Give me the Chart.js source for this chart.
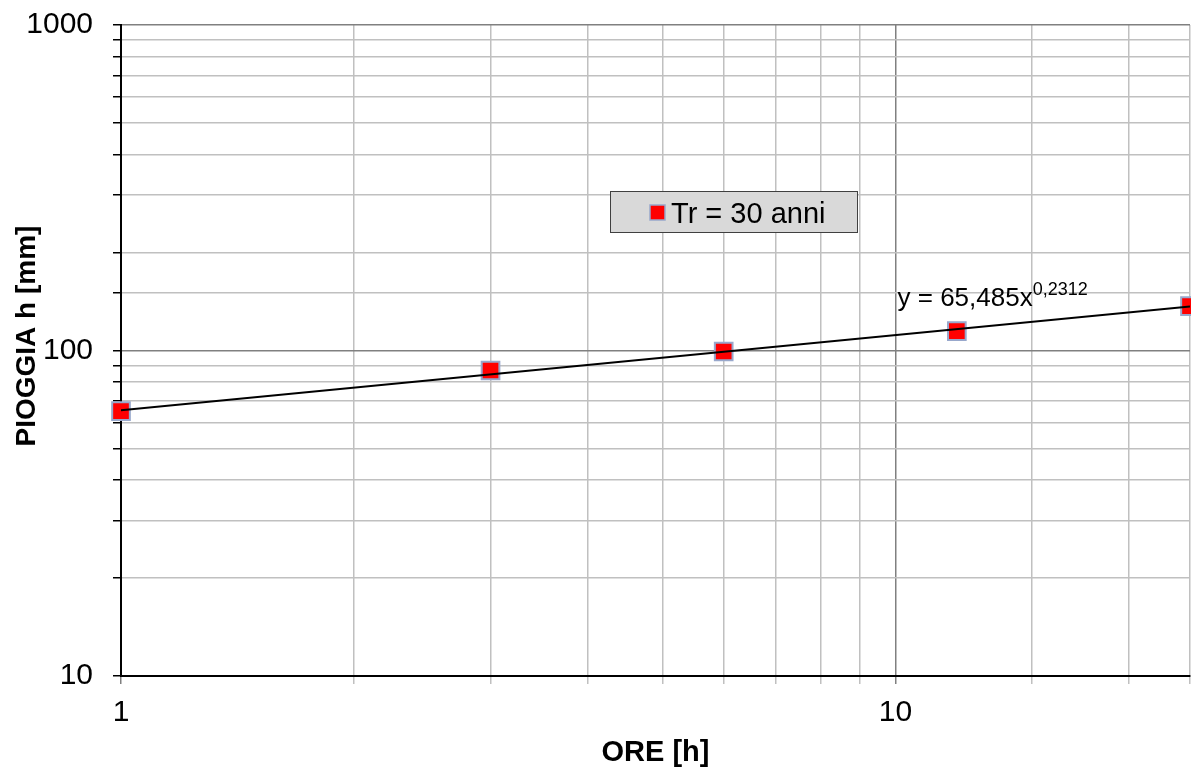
<!DOCTYPE html>
<html>
<head>
<meta charset="utf-8">
<title>Pioggia h - Tr 30 anni</title>
<script src="https://cdn.jsdelivr.net/npm/chart.js@4.4.1/dist/chart.umd.min.js"></script>
<style>
html, body { margin: 0; padding: 0; background: #fff; }
canvas { display: block; }
</style>
</head>
<body>
<canvas id="myChart" width="1191" height="767"></canvas>
<script>
// dati
var ore = [1, 3, 6, 12, 24];
var pioggia = [65.1, 86.8, 99.3, 114.7, 136.8];
// linea di tendenza (potenza) - estremi
var trendOre = [1, 24];
var trendPioggia = [65.5, 136.5];
var xLabels = [1, 10];
var yLabels = [10, 100, 1000];
var titoloY = 'PIOGGIA h [mm]';
var equazione = 'y = 65,485x';
var esponente = '0,2312';

var FONT = '"Liberation Sans", Arial, sans-serif';

function isDecade(v) {
    var l = Math.log10(v);
    return Math.abs(l - Math.round(l)) < 1e-9;
}
function gridColor(c) {
    if (!c.tick) return '#c0c0c0';
    return isDecade(c.tick.value) ? '#808080' : '#c0c0c0';
}
function toPoints(xs, ys) {
    return xs.map(function (x, i) { return { x: x, y: ys[i] }; });
}

// legenda, equazione e titolo asse y disegnati a mano
var extraPlugin = {
    id: 'extra',
    afterDatasetsDraw: function (chart) {
        var c = chart.ctx;
        var xs = chart.scales.x, ys = chart.scales.y;
        c.save();
        // equazione
        var ex = xs.getPixelForValue(10) + 2;
        var ey = ys.getPixelForValue(100) - 45;
        c.fillStyle = '#000';
        c.textBaseline = 'alphabetic';
        c.textAlign = 'left';
        c.font = '26px ' + FONT;
        c.fillText(equazione, ex, ey);
        var w = c.measureText(equazione).width;
        c.font = '18px ' + FONT;
        c.fillText(esponente, ex + w, ey - 11);

        // legenda
        var ds = chart.data.datasets[1];
        c.fillStyle = '#d9d9d9';
        c.fillRect(610, 191, 248, 42);
        c.strokeStyle = '#404040';
        c.lineWidth = 1;
        c.strokeRect(610.5, 191.5, 247, 41);
        c.fillStyle = ds.pointBackgroundColor;
        c.fillRect(650, 205, 15, 15);
        c.strokeStyle = ds.pointBorderColor;
        c.lineWidth = 1.5;
        c.strokeRect(650, 205, 15, 15);
        c.fillStyle = '#000';
        c.font = '29px ' + FONT;
        c.fillText(ds.label, 671, 223);

        // titolo asse y
        c.translate(27, 336);
        c.rotate(-Math.PI / 2);
        c.textAlign = 'center';
        c.textBaseline = 'middle';
        c.font = 'bold 28px ' + FONT;
        c.fillText(titoloY, 0, 0);
        c.restore();
    }
};

var ctx = document.getElementById('myChart').getContext('2d');
var myChart = new Chart(ctx, {
    type: 'scatter',
    data: {
        datasets: [{
            label: 'Tendenza',
            type: 'line',
            data: toPoints(trendOre, trendPioggia),
            borderColor: '#000',
            borderWidth: 2,
            pointRadius: 0,
            fill: false,
            order: 0
        }, {
            label: 'Tr = 30 anni',
            data: toPoints(ore, pioggia),
            pointStyle: 'rect',
            pointRadius: 12.5,
            pointHoverRadius: 12.5,
            pointBackgroundColor: '#ff0000',
            pointBorderColor: '#98a8cc',
            pointBorderWidth: 2,
            clip: false,
            order: 1
        }]
    },
    options: {
        responsive: false,
        animation: false,
        devicePixelRatio: 1,
        layout: { autoPadding: false, padding: { top: 25, right: 1, left: 0, bottom: 0 } },
        plugins: {
            legend: { display: false },
            tooltip: { enabled: false }
        },
        scales: {
            x: {
                type: 'logarithmic',
                min: 1,
                max: 24,
                afterFit: function (s) {
                    s.height = 91;
                    s.paddingLeft = 0;
                    s.paddingRight = 0;
                },
                border: { color: '#000', width: 2 },
                grid: { color: gridColor, lineWidth: 1.5, tickLength: 8, tickColor: gridColor },
                ticks: {
                    autoSkip: false,
                    maxRotation: 0,
                    padding: 11,
                    color: '#000',
                    font: { family: FONT, size: 30 },
                    callback: function (v) { return xLabels.indexOf(v) >= 0 ? String(v) : ''; }
                },
                title: {
                    display: true,
                    text: 'ORE [h]',
                    color: '#000',
                    font: { family: FONT, size: 29, weight: 'bold' },
                    padding: { top: 0, bottom: -3 }
                }
            },
            y: {
                type: 'logarithmic',
                min: 10,
                max: 1000,
                afterFit: function (s) {
                    s.width = 121;
                    s.paddingTop = 0;
                    s.paddingBottom = 0;
                },
                border: { color: '#000', width: 2 },
                grid: { color: gridColor, lineWidth: 1.5, tickLength: 8, tickColor: '#000' },
                ticks: {
                    autoSkip: false,
                    padding: 20,
                    color: '#000',
                    font: { family: FONT, size: 30 },
                    callback: function (v) { return yLabels.indexOf(v) >= 0 ? String(v) : ''; }
                }
            }
        }
    },
    plugins: [extraPlugin]
});
</script>
</body>
</html>
